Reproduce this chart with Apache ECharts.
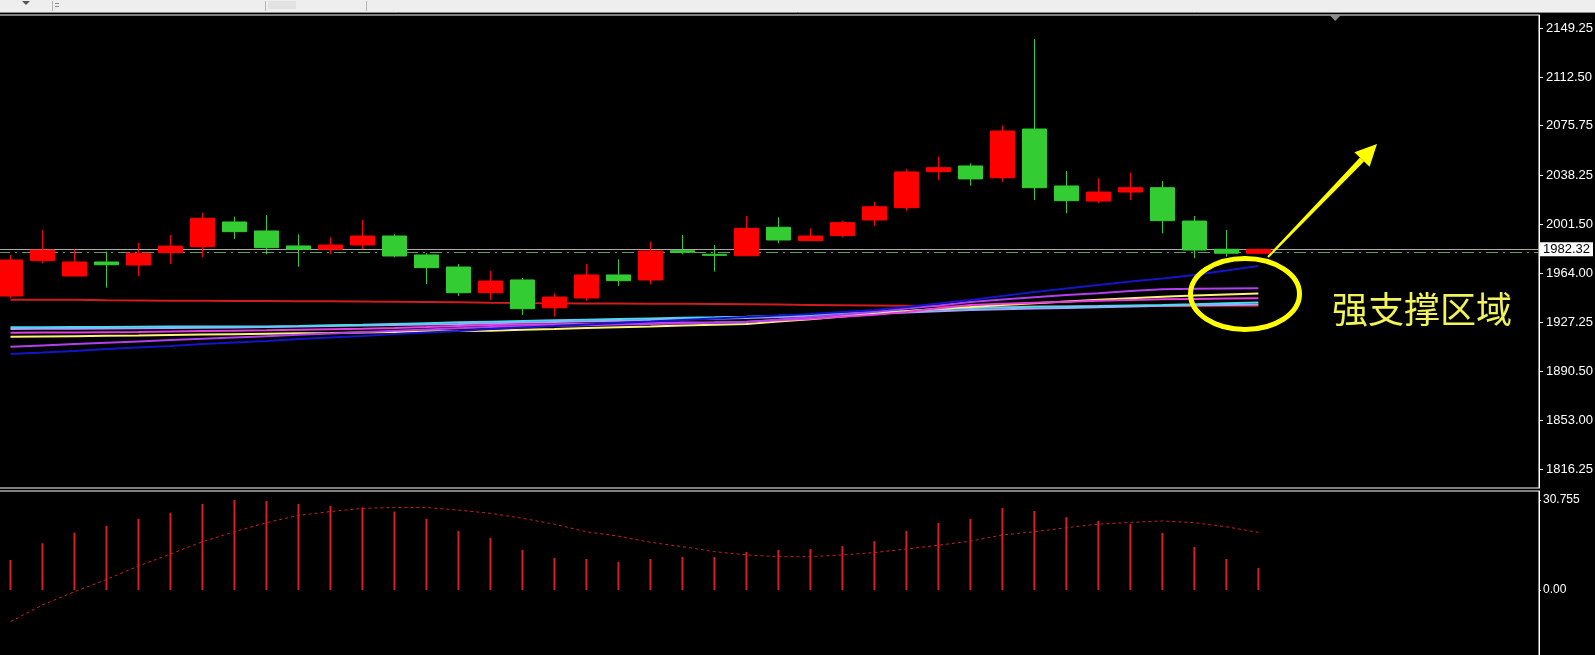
<!DOCTYPE html>
<html><head><meta charset="utf-8">
<script src="https://cdn.jsdelivr.net/npm/echarts@6/dist/echarts.min.js"></script>
<style>html,body{margin:0;padding:0;background:#000;overflow:hidden}#c{width:1595px;height:655px}</style>
</head><body><div id="c"></div>
<script>
// ---------- data ----------
const candleIndex = [0,1,2,3,4,5,6,7,8,9,10,11,12,13,14,15,16,17,18,19,20,21,22,23,24,25,26,27,28,29,30,31,32,33,34,35,36,37,38,39];
const opens  = [1947.1,1973.8,1962.2,1972.8,1970.5,1979.8,1984.3,2003.0,1996.2,1984.9,1982.4,1985.6,1992.4,1978.1,1969.0,1949.6,1959.2,1938.2,1945.6,1963.0,1959.2,1981.3,1978.6,1977.5,1999.0,1988.9,1992.7,2004.5,2013.8,2041.0,2045.3,2036.4,2073.2,2030.2,2018.8,2025.6,2028.9,2003.7,1982.4,1979.4];
const closes = [1974.3,1981.8,1972.8,1970.7,1979.4,1984.8,2005.8,1995.7,1983.6,1982.4,1985.6,1992.4,1977.3,1968.5,1949.6,1958.4,1937.5,1946.3,1963.0,1958.7,1981.1,1980.1,1977.8,1998.2,1989.4,1992.4,2002.5,2014.5,2040.8,2044.0,2035.5,2071.7,2028.9,2019.1,2025.6,2028.9,2004.0,1981.8,1979.4,1982.32];
const lows   = [1945.6,1971.8,1962.0,1953.4,1962.2,1971.3,1976.3,1990.2,1978.6,1969.2,1978.8,1982.4,1976.3,1956.1,1947.1,1944.1,1932.8,1931.5,1943.5,1954.7,1956.1,1978.6,1965.5,1977.5,1986.9,1988.9,1991.4,1999.9,2011.5,2034.7,2030.4,2033.4,2019.6,2009.6,2017.1,2019.6,1994.4,1975.6,1976.8,1979.0];
const highs  = [1978.1,1996.9,1982.4,1980.6,1987.3,1993.2,2010.0,2007.0,2008.3,1993.7,1991.4,2004.5,1993.7,1979.4,1971.3,1966.2,1960.7,1949.1,1971.3,1974.8,1988.1,1993.2,1985.6,2007.5,2006.5,1998.2,2004.0,2018.3,2042.8,2052.3,2047.3,2075.7,2141.2,2041.5,2036.0,2040.2,2034.0,2007.5,1996.9,1982.8];

const maRed      = [1944.3,1944.3,1944.2,1943.8,1943.7,1943.6,1943.5,1943.4,1943.3,1943.2,1943.1,1943.0,1942.8,1942.6,1942.3,1942.0,1941.8,1941.7,1941.5,1941.4,1941.3,1941.2,1941.0,1940.8,1940.6,1940.4,1940.2,1940.0,1939.7,1939.4,1939.2,1939.1,1939.1,1939.2,1939.3,1939.4,1939.5,1939.6,1939.7,1939.8];
const maLavender = [1922.2,1922.3,1922.4,1922.5,1922.7,1922.9,1923.1,1923.4,1923.7,1924.0,1924.4,1924.8,1925.2,1925.6,1926.0,1926.5,1927.0,1927.5,1928.0,1928.5,1929.0,1929.5,1930.0,1930.5,1931.3,1932.1,1932.9,1933.8,1934.7,1935.6,1936.5,1937.1,1937.6,1938.1,1938.6,1939.2,1939.8,1940.1,1940.4,1940.7];
const maCyan     = [1923.5,1923.5,1923.6,1923.6,1923.8,1924.0,1924.0,1924.1,1924.1,1924.5,1925.0,1925.4,1926.0,1926.6,1927.2,1927.7,1928.2,1928.7,1929.2,1929.7,1930.2,1930.6,1931.0,1931.5,1932.2,1933.0,1933.9,1934.8,1935.8,1936.9,1938.0,1938.5,1938.9,1939.2,1939.5,1939.9,1940.3,1940.9,1941.6,1942.2];
const maYellow   = [1916.4,1916.6,1916.8,1917.0,1917.2,1917.6,1918.0,1918.3,1918.6,1918.9,1919.2,1919.6,1920.0,1920.4,1920.6,1920.9,1921.6,1922.2,1922.9,1923.5,1924.1,1924.8,1925.4,1926.0,1927.8,1929.6,1931.6,1933.6,1935.6,1937.4,1938.8,1940.3,1941.6,1942.9,1944.2,1945.4,1946.6,1947.4,1948.2,1949.0];
const maMagenta  = [1919.4,1919.5,1919.6,1919.8,1920.0,1920.3,1920.6,1920.9,1921.2,1921.6,1922.0,1922.4,1922.9,1923.6,1924.4,1925.2,1925.5,1925.8,1926.1,1926.4,1926.7,1927.0,1927.3,1927.7,1928.8,1930.0,1931.4,1933.0,1935.0,1937.8,1940.3,1941.2,1942.0,1942.8,1943.5,1944.1,1944.6,1944.9,1945.2,1945.4];
const maViolet   = [1908.8,1909.8,1910.8,1911.8,1912.8,1913.8,1914.8,1915.8,1916.8,1917.8,1918.8,1919.8,1920.8,1921.8,1922.8,1923.7,1924.2,1924.7,1925.1,1925.5,1925.9,1926.3,1926.9,1927.5,1929.3,1931.2,1933.2,1935.3,1937.6,1940.0,1942.6,1944.4,1946.2,1947.8,1949.2,1950.8,1952.2,1952.5,1952.7,1952.9];
const maBlue     = [1903.3,1904.4,1905.6,1907.1,1908.2,1909.3,1910.8,1912.0,1913.1,1914.6,1915.7,1916.9,1918.4,1919.5,1920.6,1922.2,1923.3,1924.4,1925.6,1926.7,1927.8,1929.0,1930.1,1931.2,1932.4,1933.5,1935.0,1936.5,1938.8,1941.4,1944.1,1947.1,1950.1,1952.8,1955.4,1958.0,1960.3,1963.0,1966.4,1969.8];

const histValues   = [10.25,15.95,19.6,21.9,24.3,26.4,29.4,30.755,30.4,29.4,28.7,28.2,26.8,24.3,20.2,17.8,13.7,10.9,10.6,9.6,10.6,11.3,11.3,13.0,13.7,14.0,15.0,16.7,20.2,22.9,24.3,28.0,27.0,24.9,23.6,22.5,19.5,14.7,10.6,7.5];
const signalValues = [-10.8,-5.1,-0.6,3.6,8.2,12.3,16.5,19.9,23.0,25.5,26.8,27.9,28.2,28.2,27.3,26.2,24.5,22.5,19.9,18.4,16.3,14.8,13.1,12.0,11.4,11.4,12.0,12.8,14.0,15.3,16.7,18.8,19.9,21.3,22.5,23.1,23.6,23.0,21.6,19.7];

const priceTicks      = [2149.25,2112.50,2075.75,2038.25,2001.50,1964.00,1927.25,1890.50,1853.00,1816.25];
const priceTickLabels = ['2149.25','2112.50','2075.75','2038.25','2001.50','1964.00','1927.25','1890.50','1853.00','1816.25'];
const subTicks      = [30.755, 0];
const subTickLabels = ['30.755','0.00'];
const currentPrice = 1982.32;
const currentPriceLabel = '1982.32';
const levelLine = 1980.10;
const annotationText = '强支撑区域';

// ---------- chart ----------
const chart = echarts.init(document.getElementById('c'));
const pairs = arr => candleIndex.map((x, i) => [x, arr[i]]);
const lbl = (ticks, labels) => v => {
  let best = 0;
  ticks.forEach((t, i) => { if (Math.abs(t - v) < Math.abs(ticks[best] - v)) best = i; });
  return labels[best];
};
const maLine = (data, color) => ({
  type: 'line', xAxisIndex: 0, yAxisIndex: 0, data: pairs(data), showSymbol: false, symbol: 'none',
  silent: true, z: 2, lineStyle: { color: color, width: 2 }
});

chart.setOption({
  backgroundColor: '#000',
  animation: false,
  grid: [
    { left: -2, right: 56, top: 15, bottom: 167, show: true, borderColor: '#ffffff', borderWidth: 1, outerBoundsMode: 'none' },
    { left: -2, right: 56, top: 491, bottom: -5, show: true, borderColor: '#ffffff', borderWidth: 1, outerBoundsMode: 'none' }
  ],
  xAxis: [
    { type: 'value', gridIndex: 0, min: -0.39, max: 47.77, show: false },
    { type: 'value', gridIndex: 1, min: -0.39, max: 47.77, show: false }
  ],
  yAxis: [
    { type: 'value', gridIndex: 0, position: 'right', min: 1802.12, max: 2159.29,
      splitLine: { show: false },
      axisLine: { show: true, onZero: false, lineStyle: { color: '#ffffff' } },
      axisTick: { show: true, inside: false, length: 4, customValues: priceTicks, lineStyle: { color: '#ffffff' } },
      axisLabel: { customValues: priceTicks, formatter: lbl(priceTicks, priceTickLabels), color: '#ffffff',
        fontSize: 13, fontFamily: '"Liberation Sans", Arial, sans-serif', margin: 7 } },
    { type: 'value', gridIndex: 1, position: 'right', min: -23.92, max: 33.83,
      splitLine: { show: false },
      axisLine: { show: true, onZero: false, lineStyle: { color: '#ffffff' } },
      axisTick: { show: true, inside: false, length: 2, customValues: subTicks, lineStyle: { color: '#ffffff' } },
      axisLabel: { customValues: subTicks, formatter: lbl(subTicks, subTickLabels), color: '#ffffff',
        fontSize: 12, fontFamily: '"Liberation Sans", Arial, sans-serif', margin: 4 } }
  ],
  series: [
    maLine(maRed, '#d01c1c'),
    maLine(maLavender, '#a9a0ff'),
    maLine(maCyan, '#4fd6f5'),
    maLine(maYellow, '#fff27a'),
    maLine(maMagenta, '#e43fe0'),
    maLine(maViolet, '#b040f0'),
    maLine(maBlue, '#1414c8'),
    {
      type: 'candlestick', xAxisIndex: 0, yAxisIndex: 0, barWidth: 25, z: 5, silent: true,
      data: candleIndex.map((x, i) => [x, opens[i], closes[i], lows[i], highs[i]]),
      itemStyle: { color: '#ff0000', color0: '#33cc33', borderColor: '#ff0000', borderColor0: '#33cc33', borderWidth: 1 },
      markLine: {
        silent: true, symbol: 'none', animation: false,
        data: [
          { yAxis: currentPrice, lineStyle: { color: '#a8a8a8', width: 1, type: 'solid' },
            label: { show: true, position: 'end', distance: 1, formatter: () => currentPriceLabel,
              backgroundColor: '#ffffff', color: '#000000', fontSize: 13,
              fontFamily: '"Liberation Sans", Arial, sans-serif', padding: [1, 3, 0, 3] } },
          { yAxis: levelLine, lineStyle: { color: '#5f9e5f', width: 1, type: [12, 5, 2, 5] }, label: { show: false } }
        ]
      }
    },
    {
      type: 'bar', xAxisIndex: 1, yAxisIndex: 1, barWidth: 2, silent: true,
      data: pairs(histValues), itemStyle: { color: '#d81e1e' }
    },
    {
      type: 'line', xAxisIndex: 1, yAxisIndex: 1, data: pairs(signalValues), showSymbol: false, symbol: 'none',
      silent: true, lineStyle: { color: '#c82020', width: 1, type: [3, 3] }
    }
  ],
  graphic: [
    { type: 'rect', z: 50, shape: { x: 0, y: 0, width: 1595, height: 12 }, style: { fill: '#eeeeee' } },
    { type: 'line', z: 51, shape: { x1: 0, y1: 12.5, x2: 1595, y2: 12.5 }, style: { stroke: '#8c8c8c', lineWidth: 1 } },
    { type: 'line', z: 51, shape: { x1: 52.5, y1: 1, x2: 52.5, y2: 11 }, style: { stroke: '#b5b5b5', lineWidth: 1 } },
    { type: 'line', z: 51, shape: { x1: 265.5, y1: 1, x2: 265.5, y2: 11 }, style: { stroke: '#b5b5b5', lineWidth: 1 } },
    { type: 'rect', z: 51, shape: { x: 268, y: 1, width: 28, height: 8 }, style: { fill: '#e2e2e2' } },
    { type: 'line', z: 51, shape: { x1: 366.5, y1: 1, x2: 366.5, y2: 11 }, style: { stroke: '#b5b5b5', lineWidth: 1 } },
    { type: 'polygon', z: 51, shape: { points: [[22, 1], [30, 1], [26, 5]] }, style: { fill: '#555555' } },
    { type: 'polygon', z: 51, shape: { points: [[55, 3], [59, 3], [59, 4], [55, 4]] }, style: { fill: '#888888' } },
    { type: 'polygon', z: 51, shape: { points: [[55, 6], [59, 6], [59, 7], [55, 7]] }, style: { fill: '#888888' } },
    { type: 'polygon', z: 51, shape: { points: [[1329.5, 15], [1341, 15], [1335.2, 21]] }, style: { fill: '#8a8a8a' } },
    { type: 'ellipse', z: 60, shape: { cx: 1245, cy: 294, rx: 54.5, ry: 35.5 },
      style: { fill: 'none', stroke: '#ffff00', lineWidth: 5 } },
    { type: 'polygon', z: 60, shape: { points: [[1268.7, 257.7], [1267.3, 256.3], [1360.0, 157.6], [1364.0, 161.4]] },
      style: { fill: '#ffff00' } },
    { type: 'polygon', z: 60, shape: { points: [[1377, 144], [1354.4, 152.2], [1369.6, 166.8]] }, style: { fill: '#ffff00' } },
    { type: 'text', z: 60, x: 1332, y: 309,
      style: { text: annotationText, fill: '#f2f25a', fontSize: 36, fontFamily: '"Noto Sans CJK SC", sans-serif',
        align: 'left', verticalAlign: 'middle' } }
  ]
});
</script>
</body></html>
